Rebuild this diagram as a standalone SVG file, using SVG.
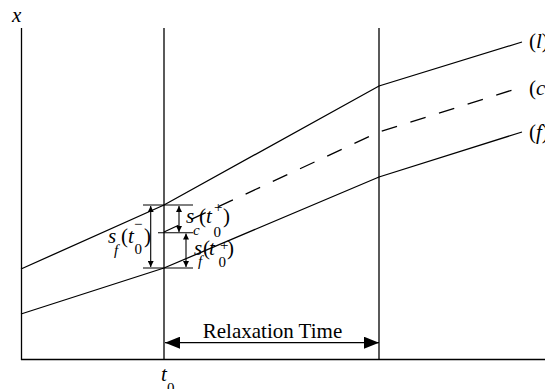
<svg xmlns="http://www.w3.org/2000/svg" width="545" height="389" viewBox="0 0 545 389">
<defs>
<style>
.ln{fill:none;stroke:#000;stroke-width:1.3}
.dash{fill:none;stroke:#000;stroke-width:1.3;stroke-dasharray:16 14}
.tk{fill:none;stroke:#000;stroke-width:1.1}
.t{font-family:"Liberation Serif","Times New Roman",serif;font-size:21px;fill:#000}
.i{font-style:italic}
.sub{font-family:"Liberation Serif","Times New Roman",serif;font-size:15px;fill:#000}
</style>
<marker id="ah" viewBox="0 0 10 10" refX="10" refY="5" markerWidth="6" markerHeight="6" markerUnits="userSpaceOnUse" orient="auto-start-reverse">
<path d="M0,0 L10,5 L0,10 z" fill="#000"/>
</marker>
<marker id="bh" viewBox="0 0 15 12" refX="15" refY="6" markerWidth="15" markerHeight="12" markerUnits="userSpaceOnUse" orient="auto-start-reverse">
<path d="M0,0 L15,6 L0,12 z" fill="#000"/>
</marker>
</defs>
<rect width="545" height="389" fill="#fff"/>
<g id="axes">
<line class="ln" x1="21.5" y1="28" x2="21.5" y2="360"/>
<line class="ln" x1="21" y1="359.5" x2="545" y2="359.5"/>
<line class="ln" x1="164" y1="28" x2="164" y2="360"/>
<line class="ln" x1="379" y1="28" x2="379" y2="360"/>
<text class="t i" x="12" y="22">x</text>
<text class="t i" x="161" y="381">t</text>
<text class="sub" x="167" y="393">0</text>
</g>
<g id="connectors">
<polyline id="line-l" class="ln" points="21,269 164,205 379,86 522,42"/>
<polyline id="line-c" class="dash" points="164,232 379,132 522,87"/>
<polyline id="line-f" class="ln" points="21,314 164,268 379,177 522,132"/>
<line class="tk" x1="143" y1="205" x2="193" y2="205"/>
<line class="tk" x1="158" y1="232.7" x2="193" y2="232.7"/>
<line class="tk" x1="143" y1="268" x2="193" y2="268"/>
<line class="tk" x1="150.7" y1="206" x2="150.7" y2="267" marker-start="url(#ah)" marker-end="url(#ah)"/>
<line class="tk" x1="179" y1="206" x2="179" y2="232" marker-start="url(#ah)" marker-end="url(#ah)"/>
<line class="tk" x1="186" y1="233.5" x2="186" y2="267" marker-start="url(#ah)" marker-end="url(#ah)"/>
<line class="ln" x1="165" y1="342.7" x2="379" y2="342.7" marker-start="url(#bh)" marker-end="url(#bh)"/>
</g>
<g id="label-relax">
<text class="t" x="272.5" y="338" text-anchor="middle">Relaxation Time</text>
</g>
<g id="label-sf-minus">
<text class="t i" x="108" y="243">s</text>
<text class="sub i" x="114" y="255">f</text>
<text class="t" x="121" y="243">(</text>
<text class="t i" x="128" y="243">t</text>
<text class="sub" x="134" y="229">−</text>
<text class="sub" x="134.5" y="254">0</text>
<text class="t" x="144" y="243">)</text>
</g>
<g id="label-sc-plus">
<text class="t i" x="186" y="223">s</text>
<text class="sub i" x="193" y="235">c</text>
<text class="t" x="199" y="223">(</text>
<text class="t i" x="206" y="223">t</text>
<text class="sub" x="214" y="212">+</text>
<text class="sub" x="213.5" y="237">0</text>
<text class="t" x="223" y="223">)</text>
</g>
<g id="label-sf-plus">
<text class="t i" x="194" y="255">s</text>
<text class="sub i" x="198" y="266">f</text>
<text class="t" x="203" y="255">(</text>
<text class="t i" x="209" y="255">t</text>
<text class="sub" x="220" y="250">+</text>
<text class="sub" x="218.5" y="267">0</text>
<text class="t" x="227" y="255">)</text>
</g>
<g id="label-l"><text class="t" x="529" y="48">(<tspan class="i">l</tspan>)</text></g>
<g id="label-c"><text class="t" x="529" y="95">(<tspan class="i">c</tspan>)</text></g>
<g id="label-f"><text class="t" x="529" y="139">(<tspan class="i">f</tspan>)</text></g>
</svg>
